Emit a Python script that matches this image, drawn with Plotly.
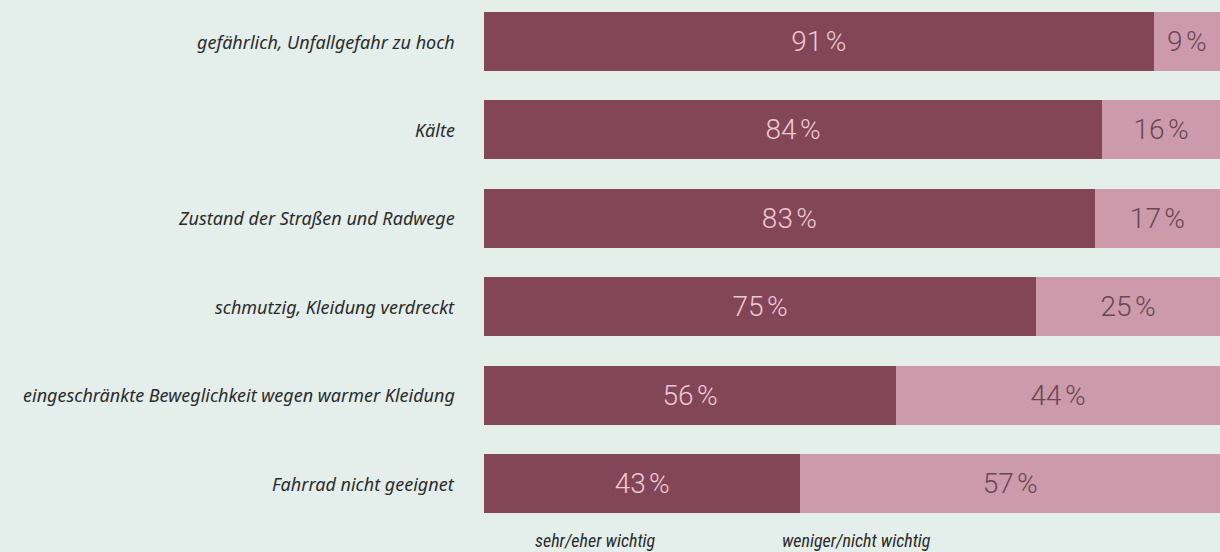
import plotly.graph_objects as go

categories = [
    "gefährlich, Unfallgefahr zu hoch",
    "Kälte",
    "Zustand der Straßen und Radwege",
    "schmutzig, Kleidung verdreckt",
    "eingeschränkte Beweglichkeit wegen warmer Kleidung",
    "Fahrrad nicht geeignet",
]
wichtig = [91, 84, 83, 75, 56, 43]
nicht_wichtig = [9, 16, 17, 25, 44, 57]
series_names = ["sehr/eher wichtig", "weniger/nicht wichtig"]

DARK = "#834558"
LIGHT = "#cc9aab"
BG = "#e4eeeb"

ypos = list(range(len(categories)))
scale = 88.4
y_top = -41.5 / scale

fig = go.Figure()
fig.add_trace(go.Bar(
    y=ypos, x=wichtig, orientation="h", name=series_names[0],
    marker=dict(color=DARK, line=dict(width=0)),
    text=[f"{v}\u202f%" for v in wichtig], textposition="inside",
    insidetextanchor="middle",
    textfont=dict(family="Roboto", size=28, color="#ecc9d2", weight=300),
    width=0.667, hoverinfo="skip",
))
fig.add_trace(go.Bar(
    y=ypos, x=nicht_wichtig, orientation="h", name=series_names[1],
    marker=dict(color=LIGHT, line=dict(width=0)),
    text=[f"{v}\u202f%" for v in nicht_wichtig], textposition="inside",
    insidetextanchor="middle",
    textfont=dict(family="Roboto", size=28, color="#694852", weight=300),
    width=0.667, hoverinfo="skip",
))

annotations = []
for i, c in enumerate(categories):
    annotations.append(dict(
        x=-27 / 736, xref="paper", y=i, yref="y", text=c, showarrow=False,
        xanchor="right", yanchor="middle",
        font=dict(family="Noto Sans", size=18, color="#2b2b2b", style="italic"),
    ))
for name, xp in zip(series_names, [595, 856]):
    annotations.append(dict(
        x=(xp - 484) / 736, xref="paper", y=y_top + 540 / scale, yref="y",
        text=name, showarrow=False, xanchor="center", yanchor="middle",
        font=dict(family="Liberation Sans Narrow, Roboto Condensed, Noto Sans", size=18,
                  color="#2b2b2b", style="italic"),
    ))

fig.update_layout(
    width=1220, height=552,
    margin=dict(l=484, r=0, t=0, b=0),
    barmode="stack",
    paper_bgcolor=BG, plot_bgcolor=BG,
    showlegend=False,
    xaxis=dict(range=[0, 100], visible=False, fixedrange=True),
    yaxis=dict(range=[5 + 68.5 / scale, y_top], visible=False, fixedrange=True),
    annotations=annotations,
)
fig.write_html("out.html", config={"displayModeBar": False},
               post_script="document.body.style.margin='0';document.body.style.overflow='hidden';")
